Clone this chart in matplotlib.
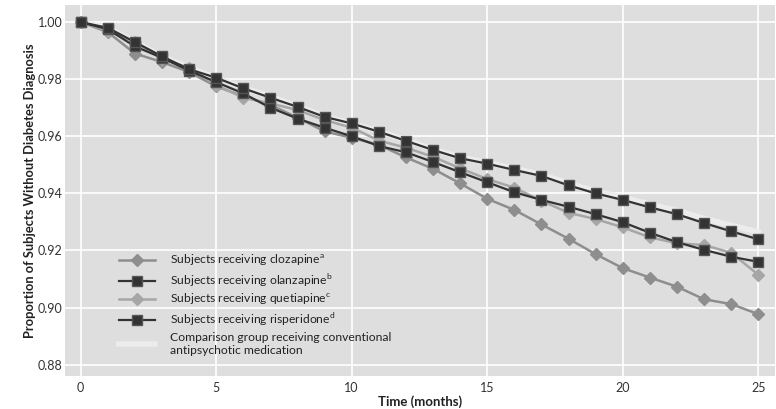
import matplotlib
matplotlib.use("Agg")
import matplotlib.pyplot as plt

plt.rcParams['font.family'] = ['Lato', 'DejaVu Sans']
plt.rcParams['mathtext.fontset'] = 'custom'
plt.rcParams['mathtext.rm'] = 'Lato'

months = list(range(0, 26))
risperidone = [1.0, 0.998, 0.993, 0.988, 0.9835, 0.9805, 0.9768, 0.9735, 0.9703, 0.9668,
               0.9645, 0.9616, 0.9584, 0.9552, 0.9523, 0.9504, 0.9482, 0.9461, 0.9428, 0.940,
               0.9377, 0.9351, 0.9327, 0.9296, 0.9267, 0.9239]
olanzapine = [1.0, 0.9975, 0.9915, 0.9875, 0.983, 0.979, 0.975, 0.970, 0.9662, 0.963,
              0.960, 0.9566, 0.9544, 0.951, 0.9474, 0.9439, 0.9404, 0.9377, 0.9353, 0.9327,
              0.9299, 0.9262, 0.9229, 0.9202, 0.9178, 0.916]
quetiapine = [1.0, 0.997, 0.993, 0.987, 0.984, 0.978, 0.9735, 0.9715, 0.9692, 0.9657,
              0.963, 0.9585, 0.956, 0.9528, 0.9488, 0.945, 0.942, 0.9374, 0.9332, 0.931,
              0.9281, 0.9246, 0.9225, 0.9219, 0.9192, 0.9115]
clozapine = [1.0, 0.9965, 0.989, 0.986, 0.9825, 0.9775, 0.974, 0.971, 0.9665, 0.9617,
             0.9595, 0.957, 0.9526, 0.9486, 0.9435, 0.9381, 0.9342, 0.9291, 0.9241, 0.9187,
             0.9138, 0.9105, 0.9073, 0.9029, 0.9012, 0.8977]
comparison = [1.0, 0.998, 0.993, 0.988, 0.984, 0.9805, 0.977, 0.974, 0.9705, 0.967,
              0.9645, 0.9618, 0.9587, 0.9555, 0.9527, 0.9508, 0.9487, 0.9466, 0.9435, 0.9408,
              0.9386, 0.9362, 0.934, 0.9312, 0.9288, 0.9265]

x_ticks = [0, 5, 10, 15, 20, 25]
y_ticks = [0.88, 0.90, 0.92, 0.94, 0.96, 0.98, 1.00]
labels = ["Subjects receiving clozapine$^\\mathrm{a}$",
          "Subjects receiving olanzapine$^\\mathrm{b}$",
          "Subjects receiving quetiapine$^\\mathrm{c}$",
          "Subjects receiving risperidone$^\\mathrm{d}$",
          "Comparison group receiving conventional\nantipsychotic medication"]

fig = plt.figure(figsize=(7.76, 4.09), dpi=100)
ax = fig.add_axes([65/776, 1-376/409, 710/776, 371/409])
ax.set_facecolor('#dedede')
for s in ax.spines.values():
    s.set_visible(False)
ax.grid(True, color='white', linewidth=1.2)
ax.set_axisbelow(True)

dark = '#333333'
h_comp, = ax.plot(months, comparison, color='#ececec', lw=4, zorder=2)
h_cloz, = ax.plot(months, clozapine, color='#8e8e8e', lw=1.8, marker='D', ms=6.5,
                  mec='#8e8e8e', zorder=3)
h_quet, = ax.plot(months, quetiapine, color='#a6a6a6', lw=1.8, marker='D', ms=6.5,
                  mec='#a6a6a6', zorder=3)
h_olan, = ax.plot(months, olanzapine, color=dark, lw=1.6, marker='s', ms=7.5,
                  mec='#555555', zorder=4)
h_risp, = ax.plot(months, risperidone, color=dark, lw=1.6, marker='s', ms=7.5,
                  mec='#555555', zorder=4)

ax.set_xlim(-0.58, 25.62)
ax.set_ylim(0.876, 1.006)
ax.set_xticks(x_ticks)
ax.set_yticks(y_ticks)
ax.set_yticklabels([f"{v:.2f}" for v in y_ticks])
ax.tick_params(length=0, labelsize=9, colors='#333333')
ax.tick_params(axis='x', pad=4)
ax.tick_params(axis='y', pad=2)

ax.set_xlabel("Time (months)", fontsize=9.5, fontweight='bold', color='#222222', labelpad=1)
ax.set_ylabel("Proportion of Subjects Without Diabetes Diagnosis", fontsize=9.3,
              fontweight='bold', color='#222222', labelpad=1)

leg = ax.legend([h_cloz, h_olan, h_quet, h_risp, h_comp], labels,
                loc='upper left', bbox_to_anchor=(0.069, 0.345), frameon=False,
                fontsize=8.7, handlelength=3.0, labelspacing=0.3, handletextpad=1.2,
                borderaxespad=0)
for t in leg.get_texts():
    t.set_color('#222222')

fig.savefig("out.png", dpi=100)
